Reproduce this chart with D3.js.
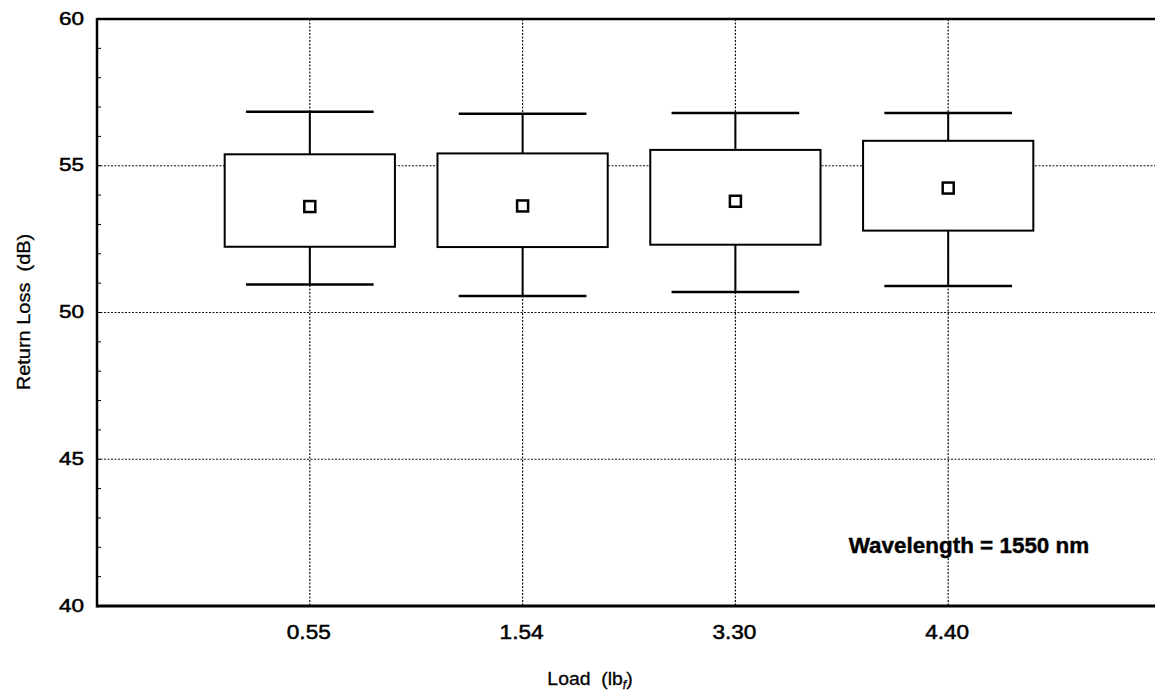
<!DOCTYPE html>
<html><head><meta charset="utf-8">
<script src="https://cdn.jsdelivr.net/npm/d3@7"></script>
<style>body{margin:0;background:#fff}svg{display:block}text{font-family:"Liberation Sans",Arial,sans-serif;fill:#000;white-space:pre}</style>
</head><body><svg id="c" width="1155" height="691"></svg>
<script>
const categories = ["0.55","1.54","3.30","4.40"];
const whiskerLow  = [50.95, 50.56, 50.70, 50.90];
const boxLow      = [52.24, 52.23, 52.31, 52.79];
const meanValue   = [53.61, 53.63, 53.79, 54.24];
const boxHigh     = [55.39, 55.42, 55.54, 55.85];
const whiskerHigh = [56.84, 56.77, 56.80, 56.80];
const yTicks = [40,45,50,55,60];
const yMinorTicks = d3.range(40,61,1);
const yLabel = "Return Loss  (dB)";
const xLabel = "Load  (lb";
const xLabelSub = "f";
const note = "Wavelength = 1550 nm";

const svg = d3.select("#c");
const x = d3.scaleLinear().domain([0,5]).range([97,1161]);
const y = d3.scaleLinear().domain([40,60]).range([606,19]);
const cx = i => x(i+1);

// grid
const g = svg.append("g");
g.selectAll("line.h").data(yTicks.filter(t=>t>40&&t<60)).join("line")
  .attr("x1",x(0)).attr("x2",1155).attr("y1",d=>y(d)).attr("y2",d=>y(d))
  .attr("stroke","#111").attr("stroke-width",1.2).attr("stroke-dasharray","2,1.5");
g.selectAll("line.v").data(categories).join("line")
  .attr("x1",(d,i)=>cx(i)).attr("x2",(d,i)=>cx(i)).attr("y1",y(60)).attr("y2",y(40))
  .attr("stroke","#111").attr("stroke-width",1.2).attr("stroke-dasharray","2,1.5");

// boxes
const b = svg.append("g");
categories.forEach((c,i)=>{
  const X = cx(i);
  const hw = (x(0.4)-x(0)), cw = (x(0.3)-x(0));
  b.append("line").attr("x1",X).attr("x2",X).attr("y1",y(whiskerLow[i])).attr("y2",y(whiskerHigh[i]))
    .attr("stroke","#000").attr("stroke-width",2);
  [whiskerLow[i],whiskerHigh[i]].forEach(v=>{
    b.append("line").attr("x1",X-cw).attr("x2",X+cw).attr("y1",y(v)).attr("y2",y(v))
      .attr("stroke","#000").attr("stroke-width",2.5);
  });
  b.append("rect").attr("x",X-hw).attr("width",2*hw).attr("y",y(boxHigh[i]))
    .attr("height",y(boxLow[i])-y(boxHigh[i])).attr("fill","#fff").attr("stroke","#000").attr("stroke-width",2);
  b.append("rect").attr("x",X-5.5).attr("y",y(meanValue[i])-5.5).attr("width",11).attr("height",11)
    .attr("fill","#fff").attr("stroke","#000").attr("stroke-width",2.5);
});

// axes frame
svg.append("line").attr("x1",x(0)).attr("x2",1155).attr("y1",y(60)).attr("y2",y(60)).attr("stroke","#000").attr("stroke-width",2.5);
svg.append("line").attr("x1",x(0)).attr("x2",1155).attr("y1",y(40)).attr("y2",y(40)).attr("stroke","#000").attr("stroke-width",3);
svg.append("line").attr("x1",x(0)).attr("x2",x(0)).attr("y1",y(60)-1).attr("y2",y(40)+1.5).attr("stroke","#000").attr("stroke-width",2.5);
svg.selectAll("line.mt").data(yMinorTicks).join("line")
  .attr("x1",x(0)).attr("x2",x(0)+4).attr("y1",d=>y(d)).attr("y2",d=>y(d)).attr("stroke","#000").attr("stroke-width",1);

function txt(sel, s, px, py, opts){
  const t = sel.append("text").text(s)
    .attr("transform",`translate(${px},${py}) ${opts.rot?`rotate(${opts.rot})`:""} scale(${opts.sx||1},1)`)
    .attr("font-size",opts.fs).attr("text-anchor",opts.anchor||"middle")
    .attr("stroke","#000").attr("stroke-width",opts.sw==null?0.5:opts.sw);
  if(opts.bold) t.attr("font-weight","bold");
  return t;
}
// y tick labels
yTicks.forEach(t=>txt(svg, String(t), 84, y(t)+5.5, {fs:18, anchor:"end", sx:1.25}));
// x tick labels
categories.forEach((c,i)=>txt(svg, c, cx(i)-1, 639, {fs:19.5, sx:1.16}));
// y label
txt(svg, yLabel, 30, 312, {fs:18.5, rot:-90, sx:1.08, sw:0.3});
// x label
const xl = txt(svg, xLabel, 590, 685, {fs:19, sx:1.02, sw:0.3});
xl.append("tspan").text(xLabelSub).attr("font-size",12).attr("font-style","italic").attr("dy",4);
xl.append("tspan").text(")").attr("dy",-4);
// note
txt(svg, note, 969, 553, {fs:22, bold:true, sx:1.02, sw:0.4});
</script></body></html>
